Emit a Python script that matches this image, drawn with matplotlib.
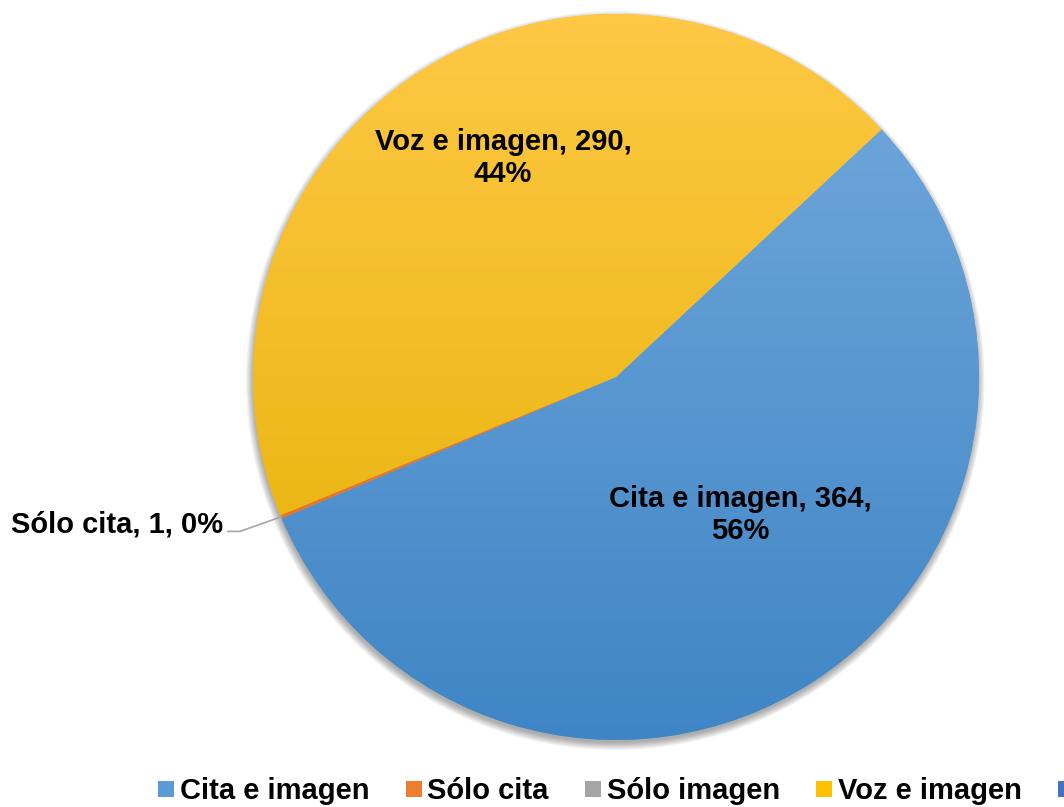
import numpy as np
import matplotlib
matplotlib.use("Agg")
import matplotlib.pyplot as plt
from matplotlib.colors import LinearSegmentedColormap
from matplotlib.lines import Line2D

# data
categories = ["Cita e imagen", "Sólo cita", "Sólo imagen", "Voz e imagen", "Otros"]
values = [364, 1, 0, 290, 0]
percents = ["56%", "0%", "0%", "44%", "0%"]

# styles
colors = ["#5B9BD5", "#ED7D31", "#A5A5A5", "#FFC000", "#4472C4"]
tops = ["#74AADD", "#F4914E", "#B5B5B5", "#FFC845", "#5A84CF"]
bottoms = ["#3F85C5", "#DA6A1C", "#939393", "#E3B000", "#3A64B0"]

plt.rcParams['font.family'] = ['Liberation Sans', 'DejaVu Sans']
fig = plt.figure(figsize=(10.64, 8.07), dpi=100)
ax = fig.add_axes([253/1064, 67/807, 726/1064, 726/807])

# soft drop shadow under the pie
for k in range(10):
    ax.add_patch(plt.Circle((-0.002, -0.01), 0.998 + 0.0022*k, color='black', alpha=0.035,
                            lw=0, zorder=0, clip_on=False))

wedges, _ = ax.pie(values, colors=colors, startangle=43, counterclock=False,
                   radius=1, wedgeprops=dict(linewidth=0))

# vertical gradient fill clipped to each wedge
grad = np.linspace(1, 0, 256).reshape(-1, 1)
for i, w in enumerate(wedges):
    if values[i] == 0:
        continue
    cmap = LinearSegmentedColormap.from_list("g%d" % i, [bottoms[i], tops[i]])
    im = ax.imshow(grad, extent=[-1, 1, -1, 1], cmap=cmap, vmin=0, vmax=1,
                   aspect='auto', origin='upper', zorder=2)
    im.set_clip_path(w)

# data labels
font = dict(fontsize=21, fontweight='bold', color='black', zorder=5)
ax.text(0.342, -0.38, f"{categories[0]}, {values[0]},\n{percents[0]}", ha='center', va='center', **font)
ax.text(-0.311, 0.603, f"{categories[3]}, {values[3]},\n{percents[3]}", ha='center', va='center', **font)

# leader label for the tiny slice
w = wedges[1]
mid = np.deg2rad((w.theta1 + w.theta2) / 2)
ex, ey = np.cos(mid), np.sin(mid)
ax.plot([ex, -1.036, -1.069], [ey, ey - 0.04, ey - 0.04], color='#A6A6A6', lw=1.2, clip_on=False, zorder=5)
ax.text(-1.082, ey - 0.02, f"{categories[1]}, {values[1]}, {percents[1]}", ha='right', va='center', **font)

ax.set_xlim(-1, 1)
ax.set_ylim(-1, 1)
ax.axis('off')

# legend: the last entry runs off the right edge in the original, only its marker shows
handles = [Line2D([], [], marker='s', ls='none', markersize=11.3, markerfacecolor=c,
                  markeredgewidth=0) for c in colors]
leg_labels = categories[:4] + [""]
fig.legend(handles, leg_labels, loc='center left', bbox_to_anchor=(158/1064, 16/807),
           ncol=5, frameon=False, prop=dict(weight='bold', size=21), handlelength=0.55,
           handletextpad=0.2, columnspacing=1.24, borderaxespad=0, borderpad=0)

fig.savefig("out.png", dpi=100)
